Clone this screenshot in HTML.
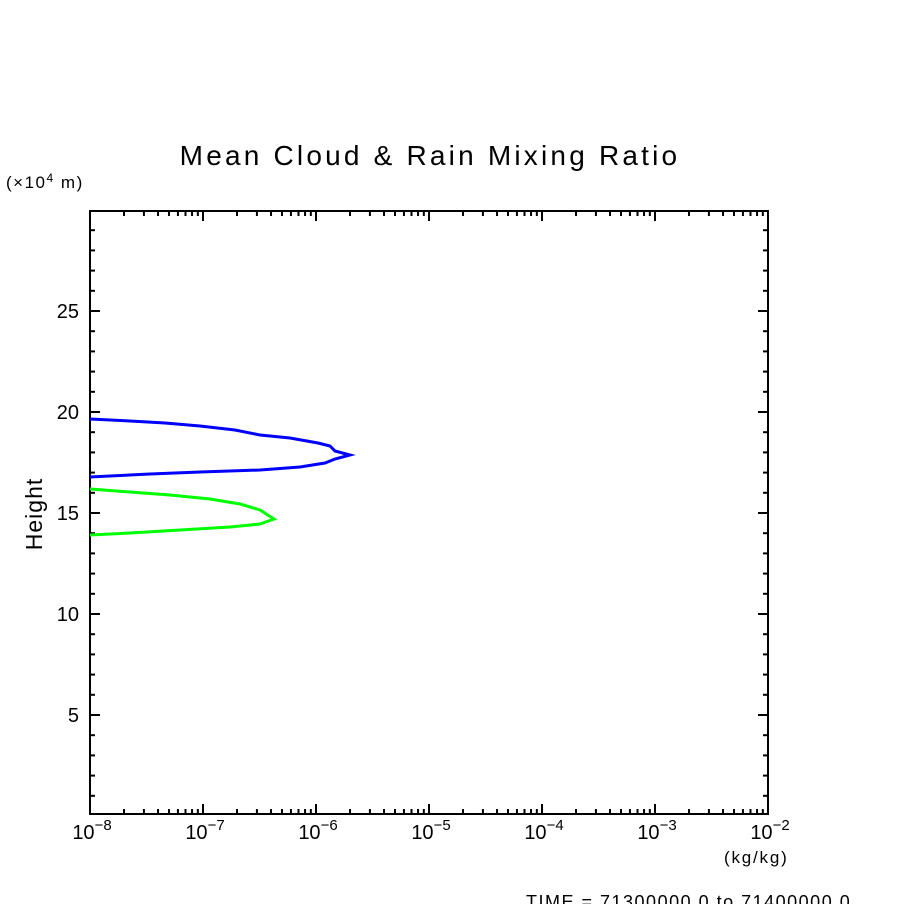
<!DOCTYPE html>
<html><head><style>body{margin:0;background:#fff}svg{display:block}text{font-family:"Liberation Sans",sans-serif;fill:#000}</style></head>
<body>
<svg id="s" width="904" height="904" xmlns="http://www.w3.org/2000/svg">
<rect width="904" height="904" fill="#fff"/>
<text x="430" y="165" font-size="28" text-anchor="middle" letter-spacing="3.2">Mean Cloud &amp; Rain Mixing Ratio</text>
<text x="6" y="188" font-size="17" letter-spacing="1.5">(×10<tspan dy="-6" font-size="12">4</tspan><tspan dy="6"> m)</tspan></text>
<text transform="translate(42,514) rotate(-90)" font-size="23" text-anchor="middle" letter-spacing="1">Height</text>
<text x="724" y="863" font-size="17" letter-spacing="1.8">(kg/kg)</text>
<text x="526" y="908" font-size="18" letter-spacing="1.5">TIME = 71300000.0 to 71400000.0</text>
<g id="ax" stroke="#000" stroke-width="2" fill="none"><rect x="90" y="211" width="678" height="603"/></g>
<g id="lab" font-size="20"></g>
<polyline fill="none" stroke="#0000ff" stroke-width="3" points="90,419 130,421 165,423 200,426 235,430 260,435 290,438 318,443 330,446 335,451 350,455 335,459 325,463 300,467 260,470 200,472 150,474 110,476 90,477"/>
<polyline fill="none" stroke="#00ff00" stroke-width="3" points="90,489 130,492 170,495 210,499 240,504 260,510 274,519 260,524 230,527 180,530 130,533 90,535"/>
</svg>
<script>
var ax=document.getElementById('ax'),lab=document.getElementById('lab'),ns='http://www.w3.org/2000/svg';
function L(x1,y1,x2,y2){var l=document.createElementNS(ns,'line');l.setAttribute('x1',x1);l.setAttribute('y1',y1);l.setAttribute('x2',x2);l.setAttribute('y2',y2);ax.appendChild(l);}
function T(x,y,t,a){var e=document.createElementNS(ns,'text');e.setAttribute('x',x);e.setAttribute('y',y);e.setAttribute('text-anchor',a);e.innerHTML=t;lab.appendChild(e);}
for(var d=0;d<6;d++){var x0=90+113*d;for(var k=2;k<=9;k++){var x=x0+113*Math.log10(k);L(x,814,x,809);L(x,211,x,216);}}
for(var d=0;d<=6;d++){var x=90+113*d;L(x,814,x,804);L(x,211,x,221);T(x+2,839,'10<tspan dy="-9" font-size="15">−'+(8-d)+'</tspan>','middle');}
for(var v=1;v<30;v++){var y=816-20.2*v;var m=v%5==0;L(90,y,m?100:95,y);L(768,y,m?758:763,y);if(m)T(79,y+7,v,'end');}
</script>
</body></html>
